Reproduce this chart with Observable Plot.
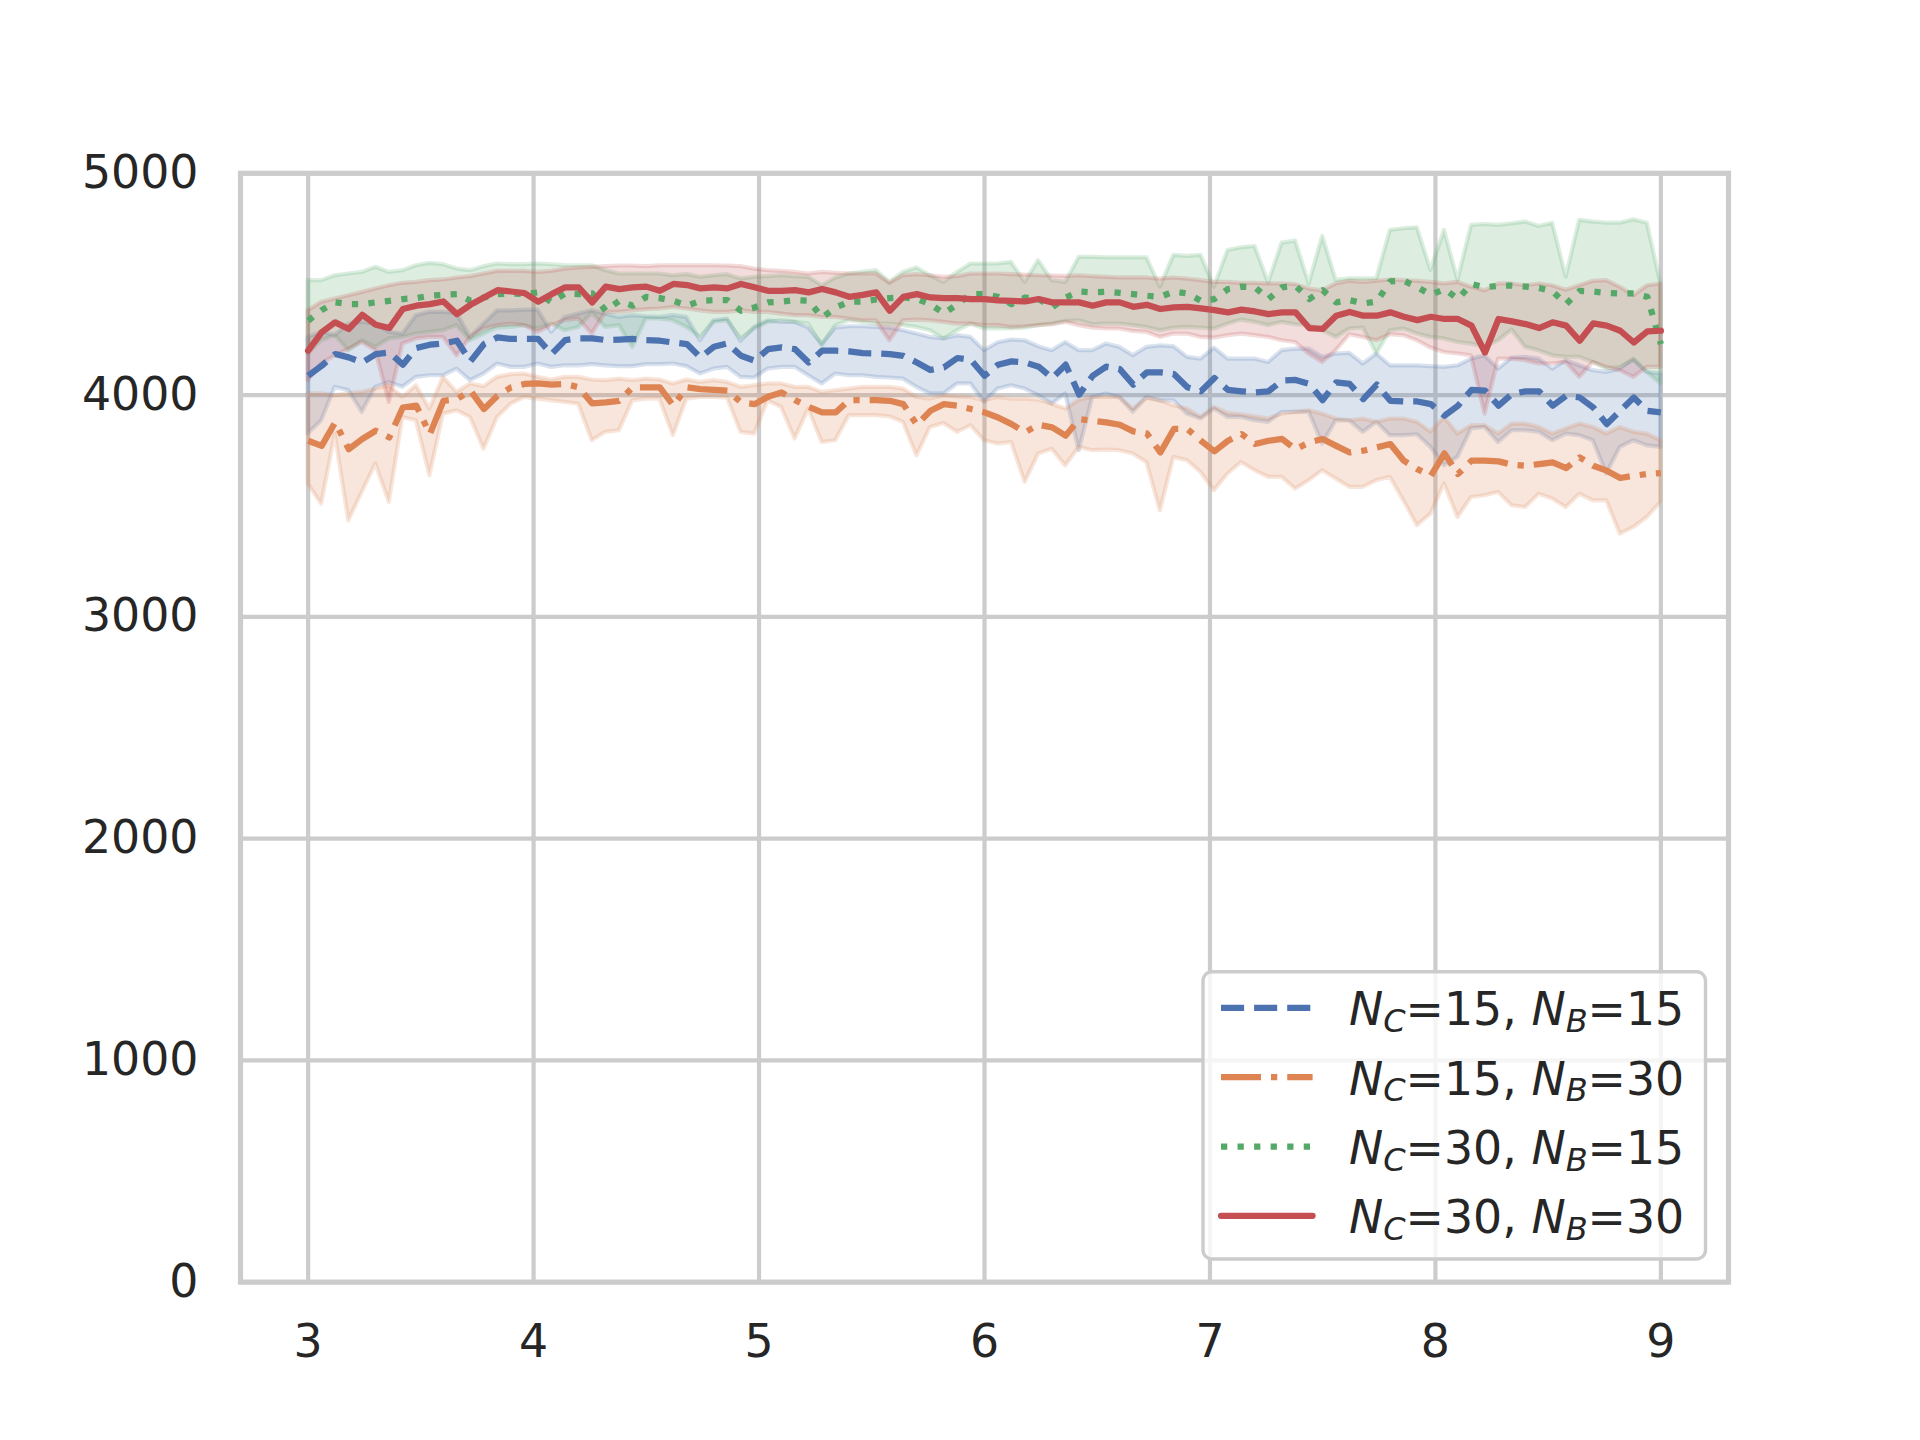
<!DOCTYPE html>
<html>
<head>
<meta charset="utf-8">
<script src="https://cdn.jsdelivr.net/npm/d3@7"></script>
<script src="https://cdn.jsdelivr.net/npm/@observablehq/plot@0.6"></script>
<style>
  body { margin: 0; background: #ffffff; }
  #chart svg { display: block; }
</style>
</head>
<body>
<div id="chart"></div>
<script>
// ---------- data ----------
const xValues = [
  3.00,3.06,3.12,3.18,3.24,3.30,3.36,3.42,3.48,3.54,
  3.60,3.66,3.72,3.78,3.84,3.90,3.96,4.02,4.08,4.14,
  4.20,4.26,4.32,4.38,4.44,4.50,4.56,4.62,4.68,4.74,
  4.80,4.86,4.92,4.98,5.04,5.10,5.16,5.22,5.28,5.34,
  5.40,5.46,5.52,5.58,5.64,5.70,5.76,5.82,5.88,5.94,
  6.00,6.06,6.12,6.18,6.24,6.30,6.36,6.42,6.48,6.54,
  6.60,6.66,6.72,6.78,6.84,6.90,6.96,7.02,7.08,7.14,
  7.20,7.26,7.32,7.38,7.44,7.50,7.56,7.62,7.68,7.74,
  7.80,7.86,7.92,7.98,8.04,8.10,8.16,8.22,8.28,8.34,
  8.40,8.46,8.52,8.58,8.64,8.70,8.76,8.82,8.88,8.94,
  9.00];

// N_C=15, N_B=15
const s1Mean = [
  4087,4132,4185,4170,4147,4185,4192,4137,4212,4227,
  4233,4245,4152,4230,4260,4253,4253,4253,4185,4248,
  4256,4256,4248,4250,4253,4248,4245,4237,4230,4170,
  4218,4233,4177,4155,4207,4215,4207,4147,4200,4200,
  4197,4189,4188,4185,4177,4147,4113,4125,4167,4158,
  4087,4137,4152,4147,4128,4077,4137,4002,4087,4128,
  4117,4047,4102,4102,4095,4035,4017,4077,4023,4017,
  4012,4017,4065,4068,4050,3977,4057,4050,3982,4047,
  3974,3971,3971,3959,3907,3952,4023,4020,3952,4005,
  4017,4017,3952,3997,3989,3944,3869,3929,3989,3929,
  3922];
const s1Lo = [
  3824,3884,4035,4020,3922,4035,4057,4035,4080,4087,
  4087,4117,4065,4095,4140,4125,4125,4140,4125,4132,
  4132,4137,4132,4128,4128,4137,4137,4140,4128,4095,
  4117,4125,4080,4077,4117,4125,4125,4087,4050,4095,
  4087,4087,4080,4077,4072,4035,4005,4005,4050,4050,
  3967,4027,4042,4027,3997,3959,4005,3749,3989,4005,
  3989,3922,3989,3974,3974,3914,3892,3937,3899,3899,
  3884,3877,3922,3922,3922,3779,3884,3884,3832,3877,
  3817,3817,3821,3764,3681,3719,3847,3854,3786,3839,
  3839,3832,3794,3824,3817,3794,3644,3764,3794,3771,
  3764];
const s1Hi = [
  4260,4283,4268,4320,4328,4320,4283,4275,4358,4373,
  4373,4368,4260,4320,4380,4380,4383,4383,4283,4350,
  4365,4380,4365,4350,4358,4353,4350,4358,4350,4245,
  4335,4343,4242,4305,4335,4328,4328,4302,4230,4302,
  4308,4308,4305,4302,4290,4275,4260,4253,4268,4260,
  4200,4236,4248,4245,4218,4200,4237,4200,4200,4230,
  4215,4177,4215,4222,4218,4170,4162,4212,4162,4162,
  4162,4147,4200,4207,4207,4170,4185,4188,4140,4185,
  4132,4132,4132,4128,4125,4132,4162,4177,4117,4167,
  4170,4162,4117,4155,4132,4110,4102,4117,4162,4102,
  4095];

// N_C=15, N_B=30
const s2Mean = [
  3794,3771,3877,3756,3802,3839,3809,3944,3952,3824,
  3974,3982,4020,3937,3997,4035,4050,4053,4047,4050,
  4035,3962,3967,3974,4035,4035,4035,3952,4035,4027,
  4023,4020,3967,3959,3992,4012,3977,3947,3922,3922,
  3977,3977,3977,3974,3959,3866,3929,3959,3952,3937,
  3922,3899,3869,3832,3866,3854,3817,3892,3884,3877,
  3866,3836,3827,3741,3847,3847,3794,3746,3794,3824,
  3779,3794,3802,3756,3786,3802,3771,3741,3749,3764,
  3779,3704,3666,3636,3737,3644,3704,3704,3701,3686,
  3681,3689,3696,3671,3719,3681,3659,3626,3636,3644,
  3648];
const s2Lo = [
  3599,3508,3824,3433,3561,3689,3516,3899,3884,3636,
  3914,3929,3899,3756,3899,3959,3989,3982,3974,3967,
  3959,3794,3832,3839,3974,3982,3982,3817,3982,3989,
  3989,3986,3832,3824,3974,3944,3802,3937,3786,3794,
  3907,3907,3907,3902,3877,3726,3854,3872,3832,3862,
  3794,3779,3786,3606,3734,3756,3681,3764,3749,3752,
  3749,3734,3696,3478,3719,3704,3651,3569,3644,3696,
  3659,3629,3629,3576,3614,3659,3621,3584,3584,3614,
  3629,3523,3411,3463,3599,3448,3538,3546,3561,3501,
  3493,3553,3531,3493,3553,3523,3523,3373,3403,3448,
  3516];
const s2Hi = [
  4005,4005,3997,4005,4012,4027,4042,3989,4042,3937,
  4080,4012,4050,4038,4080,4092,4095,4080,4068,4080,
  4080,4068,4065,4072,4065,4072,4068,4050,4068,4057,
  4065,4057,4035,4042,4050,4050,4035,4035,4012,4020,
  4027,4035,4035,4035,4027,3989,3982,3997,3992,3989,
  3974,3989,3982,3982,3977,3959,3937,3977,3989,3989,
  3989,3937,3986,3974,3952,3937,3899,3944,3917,3911,
  3902,3892,3914,3922,3929,3914,3892,3884,3892,3877,
  3892,3892,3877,3832,3899,3824,3862,3862,3824,3869,
  3869,3854,3824,3847,3869,3854,3824,3854,3832,3824,
  3794];

// N_C=30, N_B=15
const s3Mean = [
  4335,4383,4418,4410,4410,4418,4425,4433,4437,4448,
  4452,4455,4425,4440,4455,4458,4455,4463,4418,4458,
  4455,4458,4380,4425,4403,4443,4437,4425,4403,4425,
  4428,4428,4380,4395,4418,4421,4428,4425,4350,4395,
  4421,4422,4431,4437,4440,4433,4410,4368,4410,4455,
  4455,4443,4410,4440,4433,4395,4440,4467,4463,4466,
  4461,4455,4448,4443,4467,4458,4425,4433,4478,4489,
  4486,4433,4486,4493,4433,4473,4418,4428,4413,4422,
  4513,4516,4486,4452,4478,4433,4501,4486,4493,4493,
  4489,4483,4467,4410,4470,4467,4460,4458,4458,4443,
  4230];
const s3Lo = [
  4185,4245,4268,4200,4245,4215,4253,4260,4275,4283,
  4290,4313,4245,4275,4302,4305,4313,4298,4320,4290,
  4305,4368,4305,4313,4215,4343,4343,4335,4305,4260,
  4328,4335,4253,4298,4328,4335,4328,4320,4222,4313,
  4335,4328,4320,4320,4313,4305,4290,4253,4290,4320,
  4298,4298,4298,4302,4313,4320,4332,4335,4317,4320,
  4320,4313,4305,4290,4302,4305,4302,4298,4320,4338,
  4328,4313,4328,4317,4313,4290,4260,4298,4302,4185,
  4290,4298,4275,4260,4253,4237,4230,4215,4245,4293,
  4215,4200,4177,4170,4170,4147,4117,4125,4155,4102,
  4050];
const s3Hi = [
  4516,4516,4538,4546,4553,4576,4553,4561,4583,4594,
  4588,4568,4561,4579,4591,4588,4588,4591,4588,4583,
  4583,4583,4561,4546,4546,4546,4546,4538,4543,4531,
  4538,4543,4523,4531,4534,4538,4534,4531,4493,4528,
  4546,4553,4561,4508,4553,4573,4538,4508,4553,4591,
  4591,4591,4598,4508,4606,4516,4508,4621,4621,4619,
  4619,4619,4619,4487,4630,4625,4630,4487,4652,4664,
  4670,4505,4685,4694,4500,4715,4517,4524,4524,4524,
  4742,4750,4754,4562,4742,4517,4765,4769,4765,4772,
  4780,4760,4775,4532,4788,4780,4775,4775,4790,4775,
  4500];

// N_C=30, N_B=30
const s4Mean = [
  4200,4283,4328,4298,4362,4317,4302,4388,4403,4410,
  4422,4365,4407,4440,4473,4467,4460,4421,4455,4486,
  4486,4418,4489,4478,4486,4489,4470,4501,4496,4481,
  4486,4481,4501,4486,4470,4470,4473,4463,4478,4463,
  4443,4452,4463,4380,4443,4455,4440,4437,4437,4433,
  4433,4427,4425,4422,4433,4418,4418,4418,4403,4418,
  4418,4398,4407,4388,4395,4398,4391,4383,4373,4385,
  4377,4365,4373,4373,4302,4298,4358,4375,4358,4358,
  4373,4353,4338,4353,4343,4343,4313,4192,4343,4332,
  4320,4302,4328,4313,4245,4323,4313,4290,4237,4287,
  4290];
const s4Lo = [
  4065,4140,4177,4207,4237,4200,3967,4230,4253,4260,
  4260,4177,4260,4298,4313,4320,4313,4283,4313,4335,
  4343,4275,4373,4373,4380,4385,4388,4395,4388,4380,
  4373,4373,4380,4373,4373,4365,4358,4358,4350,4350,
  4343,4335,4335,4245,4335,4338,4335,4328,4320,4320,
  4313,4313,4305,4308,4313,4317,4328,4313,4302,4298,
  4298,4287,4283,4260,4275,4275,4260,4257,4268,4275,
  4268,4260,4245,4237,4185,4147,4200,4272,4260,4245,
  4272,4268,4245,4212,4192,4185,4177,3914,4162,4162,
  4155,4140,4140,4147,4080,4147,4125,4110,4080,4125,
  4125];
const s4Hi = [
  4380,4418,4433,4448,4463,4478,4493,4504,4508,4516,
  4519,4528,4534,4546,4558,4558,4558,4553,4558,4568,
  4573,4576,4579,4582,4582,4579,4583,4583,4583,4583,
  4583,4582,4579,4568,4561,4558,4553,4546,4553,4549,
  4546,4546,4546,4504,4538,4543,4538,4531,4534,4546,
  4546,4546,4543,4541,4538,4537,4535,4538,4534,4531,
  4528,4528,4528,4523,4528,4523,4516,4508,4508,4504,
  4504,4501,4501,4498,4478,4470,4501,4513,4508,4513,
  4519,4516,4513,4508,4501,4508,4486,4470,4501,4501,
  4493,4501,4493,4473,4493,4513,4516,4486,4448,4493,
  4501];

const legendNC = ["15", "15", "30", "30"];
const legendNB = ["15", "30", "15", "30"];
const xTicks = [3, 4, 5, 6, 7, 8, 9];
const yTicks = [0, 1000, 2000, 3000, 4000, 5000];

// ---------- styles ----------
const colors = ["#4c72b0", "#dd8452", "#55a868", "#c44e52"];
const dashes = ["23.1,10", "40,10,6.25,10", "6.25,10.3", "none"];
const caps = ["butt", "butt", "butt", "round"];

function makeRows(mean, lo, hi, k) {
  return xValues.map((x, i) => ({x, y: mean[i], lo: lo[i], hi: hi[i], k}));
}
const series = [
  makeRows(s1Mean, s1Lo, s1Hi, 0),
  makeRows(s2Mean, s2Lo, s2Hi, 1),
  makeRows(s3Mean, s3Lo, s3Hi, 2),
  makeRows(s4Mean, s4Lo, s4Hi, 3)
];

const bandMarks = series.map((d, k) => Plot.areaY(d, {
  x: "x", y1: "lo", y2: "hi",
  fill: colors[k], fillOpacity: 0.2,
  stroke: colors[k], strokeOpacity: 0.2, strokeWidth: 4.2, strokeLinejoin: "round"
}));
const lineMarks = series.map((d, k) => Plot.line(d, {
  x: "x", y: "y",
  stroke: colors[k], strokeWidth: 6.25,
  strokeDasharray: dashes[k], strokeLinecap: caps[k], strokeLinejoin: "round"
}));

const gridStyle = {stroke: "#cccccc", strokeOpacity: 1, strokeWidth: 4.2};

const chart = Plot.plot({
  width: 1920,
  height: 1440,
  marginLeft: 240,
  marginRight: 192,
  marginTop: 172.8,
  marginBottom: 158.4,
  style: {
    fontFamily: "'DejaVu Sans', sans-serif",
    fontSize: "45.8px",
    color: "#262626",
    background: "#ffffff",
    overflow: "visible"
  },
  x: {domain: [2.7, 9.3], label: null},
  y: {domain: [0, 5000], label: null},
  marks: [
    Plot.gridX({ticks: xTicks, ...gridStyle}),
    Plot.gridY({ticks: yTicks, ...gridStyle}),
    ...bandMarks,
    ...lineMarks,
    Plot.frame({stroke: "#cccccc", strokeWidth: 5.2}),
    Plot.axisX({ticks: xTicks, tickSize: 0, tickPadding: 42.6, label: null,
      tickFormat: d => String(d), fontSize: 45.8, fill: "#262626"}),
    Plot.axisY({ticks: yTicks, tickSize: 0, tickPadding: 42, label: null,
      tickFormat: d => String(d), fontSize: 45.8, fill: "#262626"})
  ]
});

document.getElementById("chart").appendChild(chart);

// ---------- legend (lower right, inside axes) ----------
const lg = d3.select(chart).append("g")
  .attr("font-family", "'DejaVu Sans', sans-serif")
  .attr("font-size", 45.8)
  .attr("text-anchor", "start")
  .attr("fill", "#262626");
lg.append("rect")
  .attr("x", 1203).attr("y", 971.7)
  .attr("width", 502.5).attr("height", 287.3)
  .attr("rx", 9).attr("ry", 9)
  .attr("fill", "#ffffff").attr("fill-opacity", 0.8)
  .attr("stroke", "#cccccc").attr("stroke-width", 3.4);

for (let k = 0; k < 4; k++) {
  const base = 1025.3 + 69.3 * k;
  lg.append("line")
    .attr("x1", 1221).attr("x2", 1312.6)
    .attr("y1", base - 17.4).attr("y2", base - 17.4)
    .attr("stroke", colors[k]).attr("stroke-width", 6.25)
    .attr("stroke-dasharray", dashes[k])
    .attr("stroke-linecap", caps[k]);
  const t = lg.append("text").attr("x", 1349).attr("y", base).attr("text-anchor", "start");
  t.append("tspan").attr("font-style", "italic").text("N");
  t.append("tspan").attr("font-style", "italic").attr("font-size", 32).attr("dy", 6.7).text("C");
  t.append("tspan").attr("dy", -6.7).text("=" + legendNC[k] + ", ");
  t.append("tspan").attr("font-style", "italic").text("N");
  t.append("tspan").attr("font-style", "italic").attr("font-size", 32).attr("dy", 6.7).text("B");
  t.append("tspan").attr("dy", -6.7).text("=" + legendNB[k]);
}
</script>
</body>
</html>
